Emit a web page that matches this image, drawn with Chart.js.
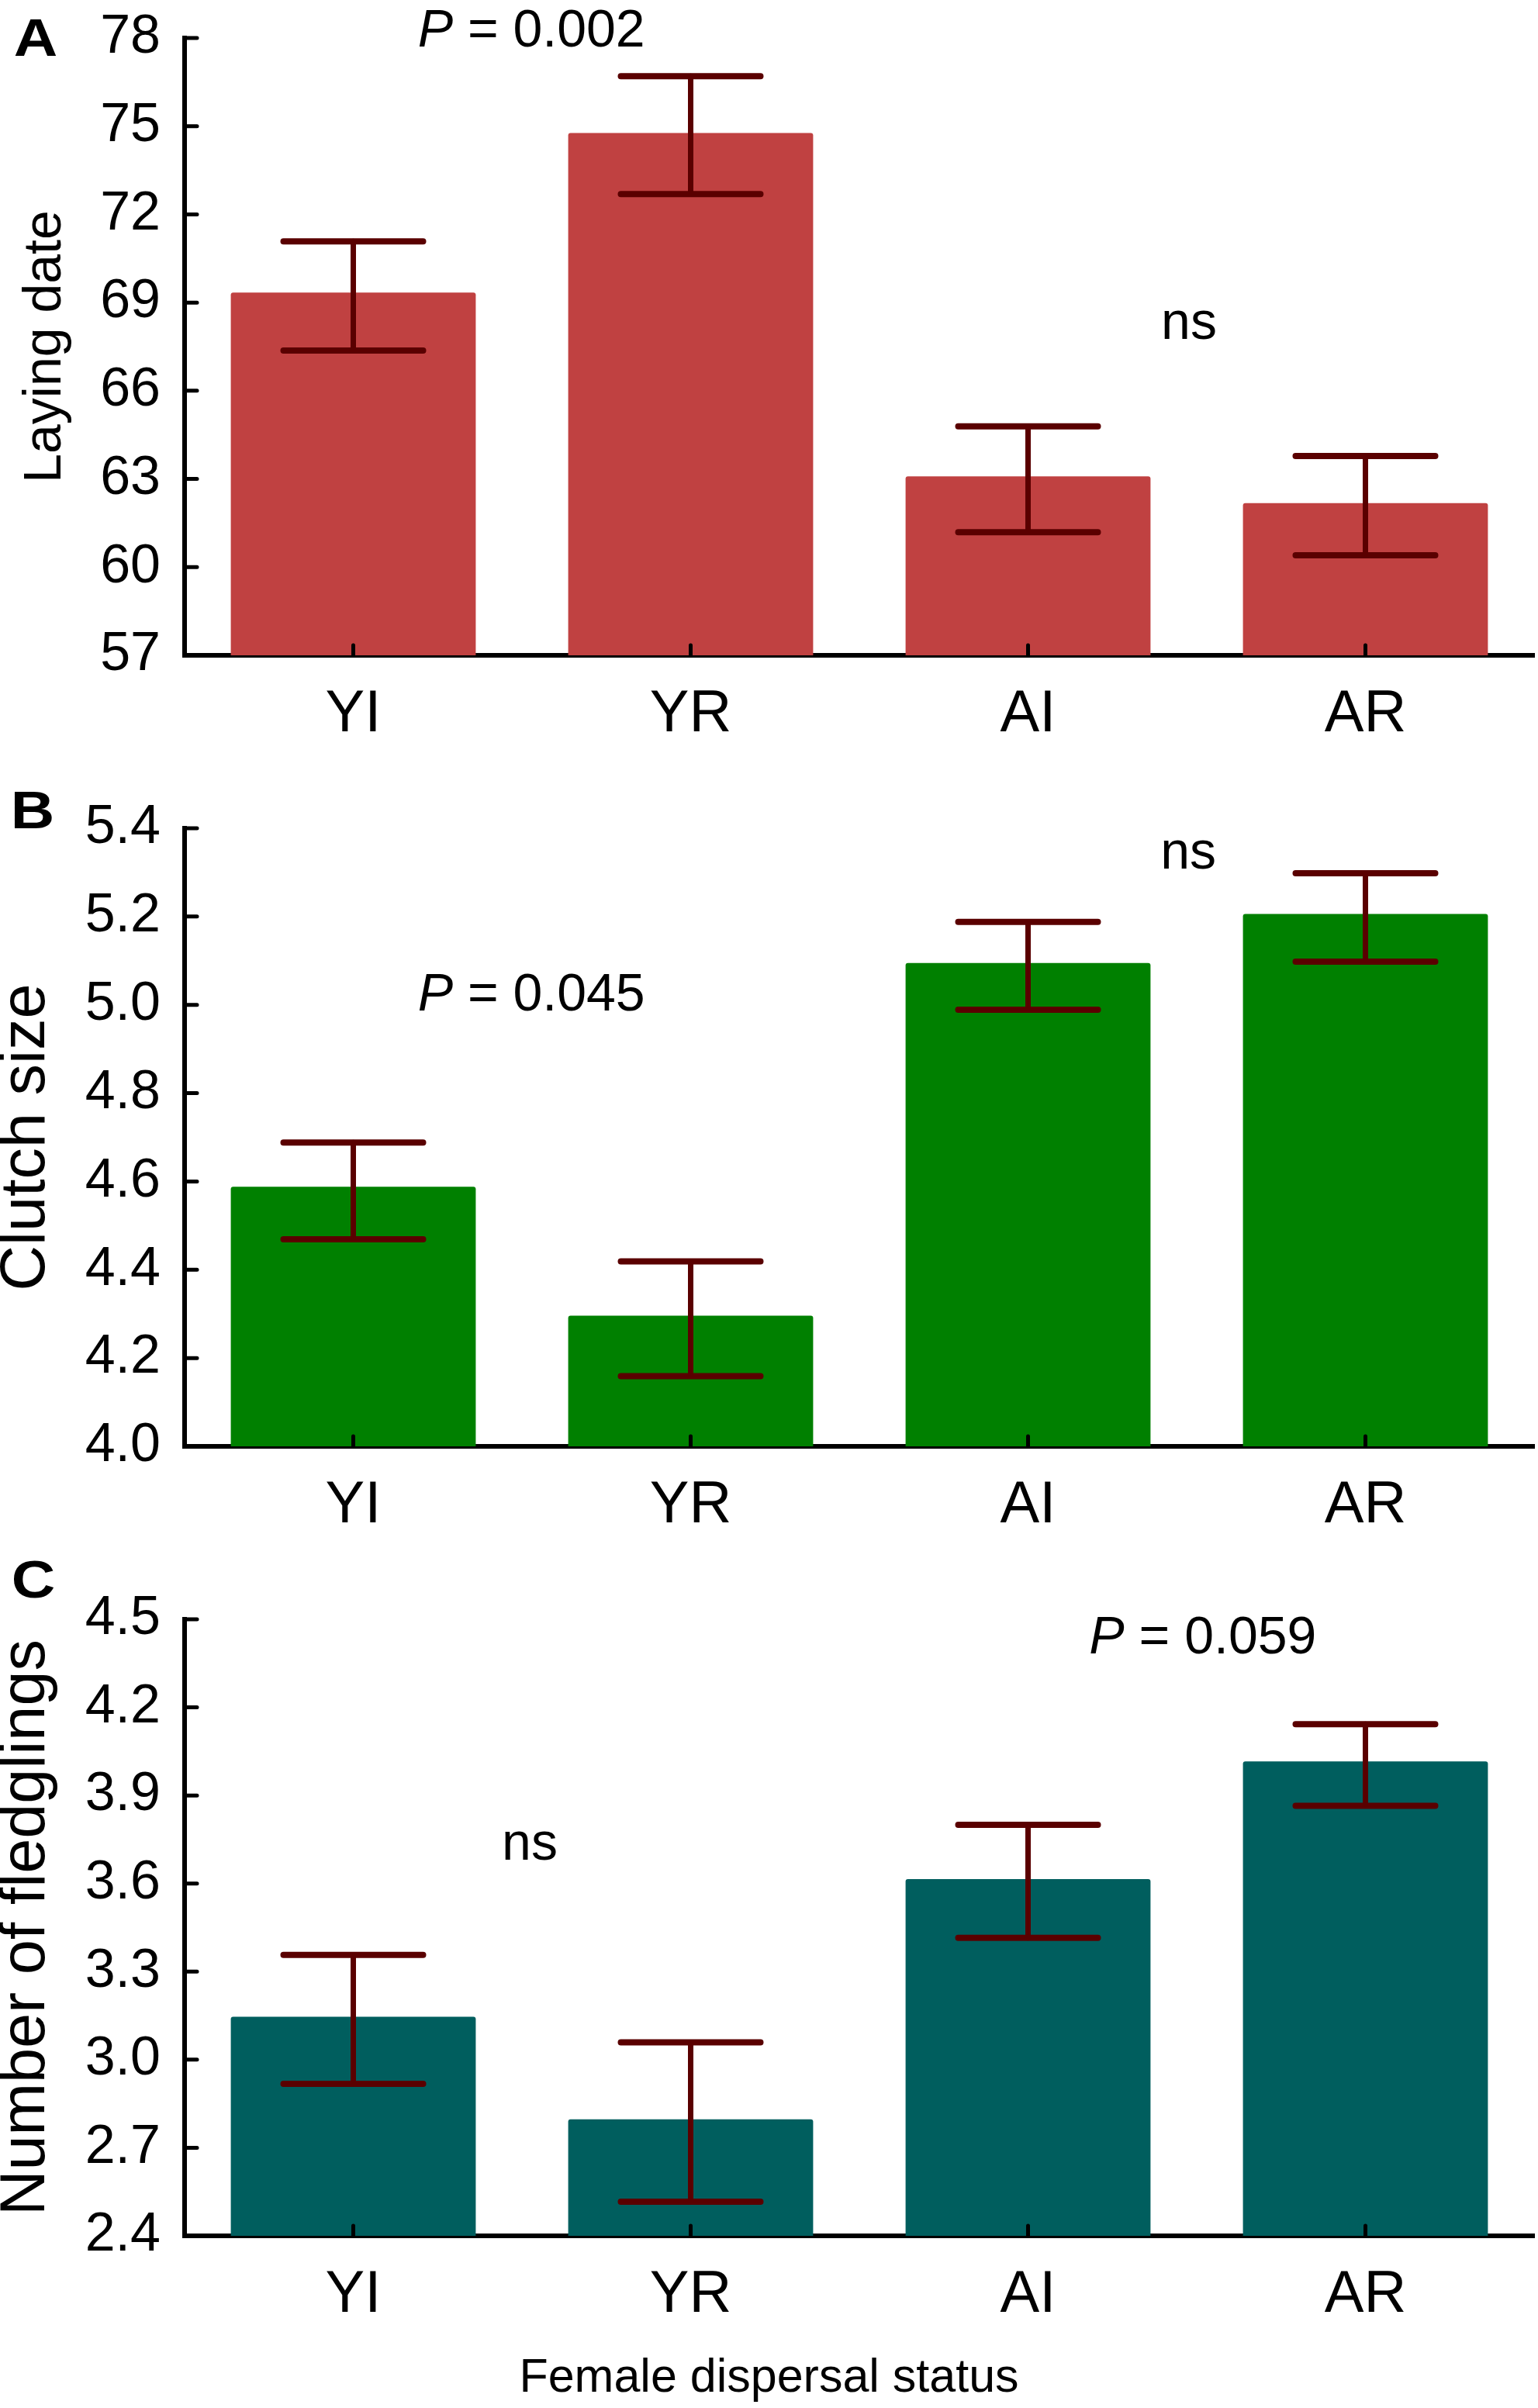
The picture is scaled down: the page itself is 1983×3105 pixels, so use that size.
<!DOCTYPE html>
<html>
<head>
<meta charset="utf-8">
<title>Female dispersal status</title>
<script src="https://cdn.jsdelivr.net/npm/chart.js@4.4.1/dist/chart.umd.min.js"></script>
<style>
  body { margin: 0; background: #fff; }
  #wrap { position: relative; width: 1983px; height: 3105px; }
  canvas { position: absolute; left: 0; }
</style>
</head>
<body>
<div id="wrap">
  <canvas id="chartA" width="1983" height="985" style="top:0px"></canvas>
  <canvas id="chartB" width="1983" height="1020" style="top:985px"></canvas>
  <canvas id="chartC" width="1983" height="1100" style="top:2005px"></canvas>
</div>
<script>
const categories = ['YI', 'YR', 'AI', 'AR'];

// A - laying date (mean, lower and upper end of error bar)
const layingDate = [69.34, 74.77, 63.09, 62.18];
const layingDateLow = [67.37, 72.69, 61.19, 60.40];
const layingDateHigh = [71.08, 76.70, 64.79, 63.78];
const layingDateTicks = [57, 60, 63, 66, 69, 72, 75, 78];

// B - clutch size
const clutchSize = [4.588, 4.296, 5.095, 5.206];
const clutchSizeLow = [4.469, 4.159, 4.989, 5.098];
const clutchSizeHigh = [4.688, 4.419, 5.188, 5.298];
const clutchSizeTicks = [4.0, 4.2, 4.4, 4.6, 4.8, 5.0, 5.2, 5.4];

// C - number of fledglings
const fledglings = [3.146, 2.797, 3.615, 4.016];
const fledglingsLow = [2.918, 2.516, 3.415, 3.865];
const fledglingsHigh = [3.357, 3.059, 3.800, 4.143];
const fledglingsTicks = [2.4, 2.7, 3.0, 3.3, 3.6, 3.9, 4.2, 4.5];

const FONT = "'Liberation Sans', Arial, Helvetica, sans-serif";

function drawNote(ctx, text, px, py) {
  let head = '', rest = text;
  if (text.startsWith('P')) { head = 'P'; rest = text.slice(1); }
  ctx.font = `italic 68px ${FONT}`;
  const wHead = head ? ctx.measureText(head).width : 0;
  ctx.font = `68px ${FONT}`;
  const m = ctx.measureText(rest);
  const total = wHead + m.width;
  const asc = head ? 0.716 * 68 : m.actualBoundingBoxAscent;
  const base = py + asc / 2;
  let x0 = px - total / 2;
  ctx.textAlign = 'left';
  ctx.textBaseline = 'alphabetic';
  if (head) {
    ctx.font = `italic 68px ${FONT}`;
    ctx.fillText(head, x0, base);
    x0 += wHead;
  }
  ctx.font = `68px ${FONT}`;
  ctx.fillText(rest, x0, base);
}

const panelExtras = {
  id: 'panelExtras',
  afterDatasetsDraw(chart, args, opts) {
    const ctx = chart.ctx;
    const y = chart.scales.y;
    const meta = chart.getDatasetMeta(0);
    ctx.save();
    ctx.strokeStyle = '#5a0000';
    ctx.lineCap = 'round';
    meta.data.forEach((bar, i) => {
      const cx = bar.x;
      const half = bar.width * 0.285;
      const yHi = y.getPixelForValue(opts.high[i]);
      const yLo = y.getPixelForValue(opts.low[i]);
      ctx.lineWidth = 7;
      ctx.beginPath();
      ctx.moveTo(cx, yHi);
      ctx.lineTo(cx, yLo);
      ctx.stroke();
      ctx.lineWidth = 8;
      ctx.beginPath();
      ctx.moveTo(cx - half, yHi); ctx.lineTo(cx + half, yHi);
      ctx.moveTo(cx - half, yLo); ctx.lineTo(cx + half, yLo);
      ctx.stroke();
    });
    ctx.restore();
  },
  afterDraw(chart, args, opts) {
    const ctx = chart.ctx;
    const {left, bottom} = chart.chartArea;
    const xs = chart.scales.x, ys = chart.scales.y;
    ctx.save();
    // ticks point inwards on both axes
    ctx.strokeStyle = '#000';
    ctx.lineWidth = 5;
    ctx.lineCap = 'round';
    ctx.beginPath();
    ys.ticks.forEach(t => {
      const py = ys.getPixelForValue(t.value);
      ctx.moveTo(left, py);
      ctx.lineTo(left + 16, py);
    });
    categories.forEach((c, i) => {
      const px = xs.getPixelForValue(i);
      ctx.moveTo(px, bottom);
      ctx.lineTo(px, bottom - 13);
    });
    ctx.stroke();

    // panel letter (a little wide, like the original)
    ctx.fillStyle = '#000';
    ctx.save();
    ctx.translate(opts.letterX, opts.letterY);
    ctx.scale(1.15, 1);
    ctx.font = `bold 68px ${FONT}`;
    ctx.textAlign = 'center';
    ctx.textBaseline = 'alphabetic';
    ctx.fillText(opts.letter, 0, 0);
    ctx.restore();

    opts.notes.forEach(n => {
      drawNote(ctx, n.text, xs.getPixelForValue(n.x), ys.getPixelForValue(n.y));
    });

    // figure-wide x title, centred on the whole figure width
    if (opts.footer) {
      ctx.font = `61px ${FONT}`;
      ctx.textAlign = 'center';
      ctx.textBaseline = 'middle';
      ctx.fillText(opts.footer, chart.width / 2, bottom + opts.footerOffset);
    }
    ctx.restore();
  }
};

function makePanel(id, cfg) {
  const ticks = cfg.ticks;
  return new Chart(document.getElementById(id), {
    type: 'bar',
    data: {
      labels: categories,
      datasets: [{
        data: cfg.values,
        backgroundColor: cfg.color,
        borderRadius: 3,
        borderSkipped: 'start',
        barPercentage: 0.726,
        categoryPercentage: 1
      }]
    },
    options: {
      responsive: false,
      animation: false,
      layout: { padding: { top: cfg.padTop, right: 5, left: 0, bottom: 0 } },
      plugins: {
        legend: { display: false },
        tooltip: { enabled: false },
        panelExtras: {
          low: cfg.low, high: cfg.high,
          letter: cfg.letter, letterX: cfg.letterX, letterY: cfg.letterY,
          notes: cfg.notes,
          footer: cfg.footer, footerOffset: 184
        }
      },
      scales: {
        x: {
          grid: { display: false, drawTicks: false },
          border: { display: true, color: '#000', width: 6 },
          ticks: { color: '#000', font: { family: FONT, size: 76 }, padding: 31, maxRotation: 0, autoSkip: false },
          afterFit: s => { s.height = cfg.xHeight; s.paddingLeft = 0; s.paddingRight = 0; }
        },
        y: {
          min: ticks[0],
          max: ticks[ticks.length - 1],
          grid: { display: false, drawTicks: false },
          border: { display: true, color: '#000', width: 6 },
          afterBuildTicks: s => { s.ticks = ticks.map(v => ({ value: v })); },
          ticks: {
            color: '#000',
            font: { family: FONT, size: 70 },
            padding: 31,
            callback: v => Number(v).toFixed(cfg.decimals)
          },
          title: {
            display: true, text: cfg.yTitle, color: '#000',
            font: { family: FONT, size: cfg.yTitleSize, lineHeight: cfg.yTitleLH },
            padding: { top: cfg.yTitlePad, bottom: 0 }
          },
          afterFit: s => { s.width = 238; s.paddingTop = 0; s.paddingBottom = 0; }
        }
      }
    },
    plugins: [panelExtras]
  });
}

makePanel('chartA', {
  values: layingDate, low: layingDateLow, high: layingDateHigh, ticks: layingDateTicks,
  decimals: 0, color: '#c04141', padTop: 49, xHeight: 140,
  yTitle: 'Laying date', yTitleSize: 68, yTitleLH: 1, yTitlePad: 25,
  letter: 'A', letterX: 46, letterY: 72,
  notes: [ { text: 'P = 0.002', x: 0.528, y: 78.34 }, { text: 'ns', x: 2.477, y: 68.26 } ]
});

makePanel('chartB', {
  values: clutchSize, low: clutchSizeLow, high: clutchSizeHigh, ticks: clutchSizeTicks,
  decimals: 1, color: '#008000', padTop: 83, xHeight: 140,
  yTitle: 'Clutch size', yTitleSize: 81, yTitleLH: 0.85, yTitlePad: 0,
  letter: 'B', letterX: 42, letterY: 83,
  notes: [ { text: 'P = 0.045', x: 0.528, y: 5.03 }, { text: 'ns', x: 2.475, y: 5.342 } ]
});

makePanel('chartC', {
  values: fledglings, low: fledglingsLow, high: fledglingsHigh, ticks: fledglingsTicks,
  decimals: 1, color: '#005e5e', padTop: 83, xHeight: 222,
  footer: 'Female dispersal status',
  yTitle: 'Number of fledglings', yTitleSize: 81, yTitleLH: 0.85, yTitlePad: 0,
  letter: 'C', letterX: 43, letterY: 55,
  notes: [ { text: 'ns', x: 0.523, y: 3.73 }, { text: 'P = 0.059', x: 2.518, y: 4.447 } ]
});
</script>
</body>
</html>
